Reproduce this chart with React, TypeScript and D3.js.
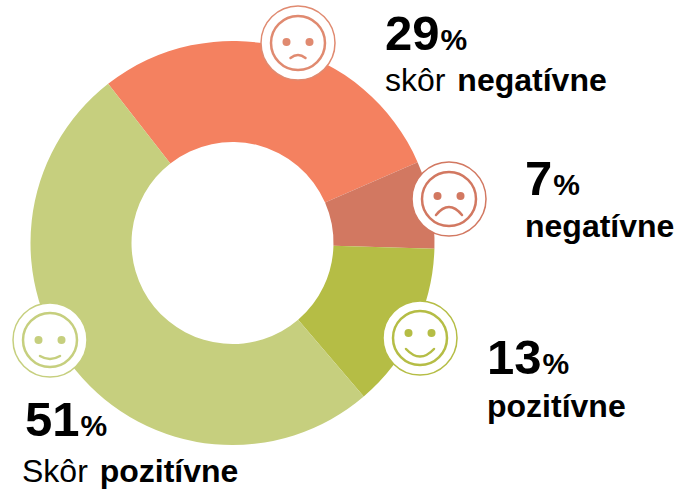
import React from 'react';
import * as d3 from 'd3';

const categories = ['skôr negatívne', 'negatívne', 'pozitívne', 'skôr pozitívne'];
// slice sizes as measured on the ring, the printed labels are rounded
const values = [29, 7, 13.3, 50.7];
const colors = ['#f48160', '#d27861', '#b5bd45', '#c6cf7e'];

const width = 684;
const height = 495;
const cx = 232.5;
const cy = 243;
const outerR = 202;
const innerR = 101;

const pie = d3.pie<number>()
    .sort(null)
    .startAngle((-38 * Math.PI) / 180)
    .endAngle((322 * Math.PI) / 180);

const arc = d3.arc<d3.PieArcDatum<number>>()
    .innerRadius(innerR)
    .outerRadius(outerR);

// face icon sitting on the ring, mouth is [half width, y of ends, y of control point]
const faces = [
    { x: 298, y: 43, ring: '#e08a70', eye: -1, mouth: [7.5, 15, 9] },
    { x: 449, y: 199, ring: '#d27861', eye: -3, mouth: [13, 16, 0] },
    { x: 420, y: 338, ring: '#b5bd45', eye: -5, mouth: [14, 11, 26] },
    { x: 50, y: 340, ring: '#c6cf7e', eye: 0, mouth: [10, 16, 22] },
];

// number label, description label (regular part + bold part)
const labels = [
    { x: 385, y: 50, num: '29', pre: 'skôr ', bold: 'negatívne', ly: 91 },
    { x: 525, y: 195, num: '7', pre: '', bold: 'negatívne', ly: 237 },
    { x: 487, y: 374, num: '13', pre: '', bold: 'pozitívne', ly: 417 },
    { x: 25, y: 436, num: '51', pre: 'Skôr ', bold: 'pozitívne', ly: 482 },
];

const mouthPath = (m: number[]) => {
    const p = d3.path();
    p.moveTo(-m[0], m[1]);
    p.quadraticCurveTo(0, m[2], m[0], m[1]);
    return p.toString();
};

export default function App() {
    const arcs = pie(values);
    return (
        <svg
            width={width}
            height={height}
            style={{ position: 'absolute', left: 0, top: 0, background: '#fff' }}
            fontFamily="'Liberation Sans', Arial, sans-serif"
        >
            <g transform={`translate(${cx},${cy})`}>
                {arcs.map((d, i) => (
                    <path key={categories[i]} d={arc(d) || ''} fill={colors[i]} />
                ))}
            </g>
            {faces.map((f, i) => (
                <g key={i} transform={`translate(${f.x},${f.y})`} stroke={f.ring} fill="none">
                    <circle r={37} fill="#fff" strokeWidth={1.5} />
                    <circle r={27} strokeWidth={2.5} />
                    <circle cx={-11.5} cy={f.eye} r={4} fill={f.ring} stroke="none" />
                    <circle cx={11.5} cy={f.eye} r={4} fill={f.ring} stroke="none" />
                    <path d={mouthPath(f.mouth)} strokeWidth={2.5} strokeLinecap="round" />
                </g>
            ))}
            {labels.map(l => (
                <g key={l.num} fill="#000">
                    <text x={l.x} y={l.y} fontWeight="bold" fontSize={49}>
                        {l.num}
                        <tspan fontSize={30} dx={1}>%</tspan>
                    </text>
                    <text x={l.x - (l.pre === 'Skôr ' ? 3 : 0)} y={l.ly} fontSize={32}>
                        {l.pre}
                        <tspan fontWeight="bold" dx={l.pre ? 3 : 0}>{l.bold}</tspan>
                    </text>
                </g>
            ))}
        </svg>
    );
}
